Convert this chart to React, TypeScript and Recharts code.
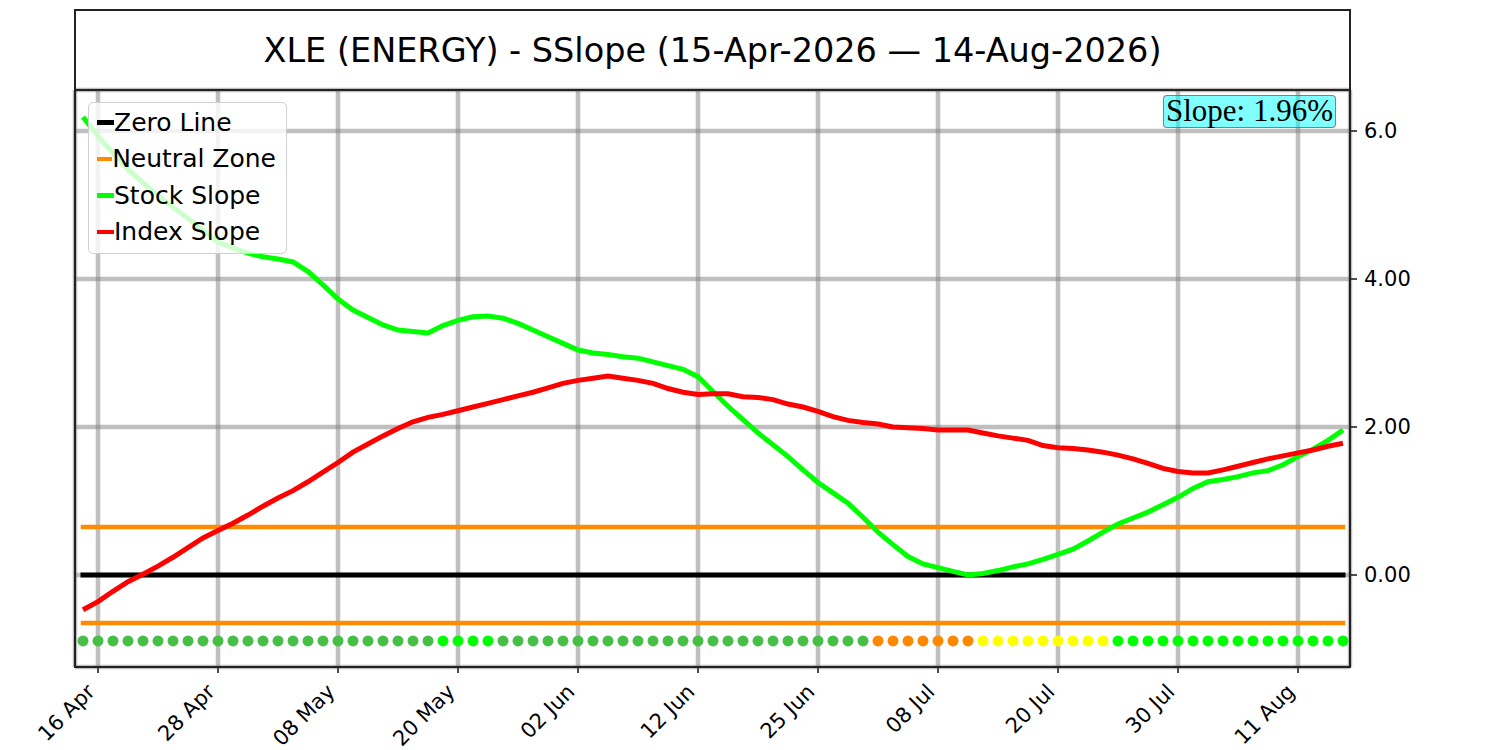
import { CartesianGrid, ComposedChart, Line, Scatter, XAxis, YAxis } from 'recharts'

// trading-day index 0 = 15 Apr 2026, 84 = 14 Aug 2026
const xTickIdx = [1, 9, 17, 25, 33, 41, 49, 57, 65, 73, 81]
const xTickLabels = [
  '16 Apr', '28 Apr', '08 May', '20 May', '02 Jun', '12 Jun',
  '25 Jun', '08 Jul', '20 Jul', '30 Jul', '11 Aug',
]

const yTicks = [0, 2, 4, 6]
const yTickLabels = ['0.00', '2.00', '4.00', '6.0']

const stockSlope = [
  6.19, 5.93, 5.7, 5.48, 5.3, 5.13, 4.97, 4.82, 4.66, 4.5,
  4.42, 4.35, 4.3, 4.27, 4.23, 4.1, 3.92, 3.73, 3.58, 3.48,
  3.38, 3.31, 3.29, 3.27, 3.37, 3.44, 3.49, 3.5, 3.47, 3.4,
  3.31, 3.22, 3.13, 3.04, 3.0, 2.98, 2.95, 2.93, 2.88, 2.83,
  2.78, 2.68, 2.48, 2.28, 2.1, 1.92, 1.76, 1.6, 1.42, 1.25,
  1.11, 0.97, 0.78, 0.58, 0.41, 0.25, 0.15, 0.1, 0.05, 0.0,
  0.02, 0.06, 0.11, 0.15, 0.21, 0.28, 0.35, 0.46, 0.58, 0.69,
  0.77, 0.85, 0.95, 1.05, 1.17, 1.26, 1.29, 1.33, 1.38, 1.41,
  1.49, 1.6, 1.7, 1.82, 1.96,
]

const indexSlope = [
  -0.47, -0.36, -0.22, -0.09, 0.01, 0.12, 0.24, 0.37, 0.5, 0.6,
  0.7, 0.81, 0.93, 1.04, 1.14, 1.26, 1.39, 1.52, 1.66, 1.77,
  1.88, 1.98, 2.07, 2.13, 2.17, 2.22, 2.27, 2.32, 2.37, 2.42,
  2.47, 2.53, 2.59, 2.63, 2.66, 2.69, 2.66, 2.63, 2.59, 2.52,
  2.47, 2.44, 2.45, 2.45, 2.41, 2.4, 2.37, 2.31, 2.27, 2.21,
  2.14, 2.09, 2.06, 2.04, 2.0, 1.99, 1.98, 1.96, 1.96, 1.96,
  1.92, 1.88, 1.85, 1.82, 1.75, 1.72, 1.71, 1.69, 1.66, 1.62,
  1.57, 1.51, 1.44, 1.4, 1.38, 1.38, 1.42, 1.47, 1.52, 1.57,
  1.61, 1.65, 1.69, 1.74, 1.78,
]

// g = positive falling, G = positive rising, o = neutral falling, y = neutral rising
const signals = (
  'gggggggggggggggggggggggg' + 'GGGG' + 'ggggggggggggggggggggggggg' +
  'ooooooo' + 'yyyyyyyyy' + 'GGGGGGGGGGGGGGGG'
).split('')

const signalColors: Record<string, string> = {
  g: '#47bf47',
  G: '#00ff00',
  o: '#ff8800',
  y: '#ffff00',
}

const zeroLevel = 0
const neutralBand = 0.65
const dotLevel = -0.89
const lastSlope = '1.96%'

const legendItems = [
  { name: 'Zero Line', color: '#000000' },
  { name: 'Neutral Zone', color: '#ff8c00' },
  { name: 'Stock Slope', color: '#00ff00' },
  { name: 'Index Slope', color: '#ff0000' },
]

const rows = stockSlope.map((s, i) => ({ i, stock: s, index: indexSlope[i] }))
const dotRows = signals.map((c, i) => ({ i, y: dotLevel, color: signalColors[c] }))
const lastIdx = stockSlope.length - 1
const seg = (v: number) => [
  { i: 0, v },
  { i: lastIdx, v },
]

const XTick = (props: any) => {
  const { x, y, payload } = props
  const label = xTickLabels[xTickIdx.indexOf(payload.value)]
  const ex = x - 2
  const ey = y + 18
  return (
    <text
      x={ex}
      y={ey}
      textAnchor="end"
      fill="#000"
      fontSize={21}
      transform={`rotate(-45, ${ex}, ${ey})`}
    >
      {label}
    </text>
  )
}

const Dot = (props: any) => {
  const { cx, cy, payload } = props
  return <circle cx={cx} cy={cy} r={5.5} fill={payload?.color} />
}

export default function App() {
  return (
    <div
      style={{
        position: 'relative',
        width: 1500,
        height: 750,
        fontFamily: '"DejaVu Sans", sans-serif',
        background: '#fff',
      }}
    >
      <style>{'body{margin:0}'}</style>
      <ComposedChart
        width={1500}
        height={750}
        data={rows}
        margin={{ top: 90, right: 50, bottom: 3, left: 75 }}
      >
        <CartesianGrid stroke="#808080" strokeOpacity={0.5} strokeWidth={4.5} />
        <XAxis
          dataKey="i"
          type="number"
          domain={[-0.533, 84.467]}
          allowDataOverflow
          ticks={xTickIdx}
          interval={0}
          height={80}
          axisLine={false}
          tickLine={{ stroke: '#222', strokeWidth: 1.6 }}
          tickSize={6}
          tick={<XTick />}
        />
        <YAxis
          orientation="right"
          type="number"
          domain={[-1.243, 6.554]}
          allowDataOverflow
          ticks={yTicks}
          width={100}
          axisLine={false}
          tickLine={{ stroke: '#222', strokeWidth: 1.6 }}
          tickSize={7}
          tickMargin={7}
          tick={{ fill: '#000', fontSize: 21 }}
          tickFormatter={(v) => yTickLabels[yTicks.indexOf(v)]}
        />
        <Line
          data={seg(neutralBand)}
          dataKey="v"
          stroke="#ff8c00"
          strokeWidth={4.5}
          strokeLinecap="square"
          dot={false}
          isAnimationActive={false}
        />
        <Line
          data={seg(-neutralBand)}
          dataKey="v"
          stroke="#ff8c00"
          strokeWidth={4.5}
          strokeLinecap="square"
          dot={false}
          isAnimationActive={false}
        />
        <Line
          data={seg(zeroLevel)}
          dataKey="v"
          stroke="#000"
          strokeWidth={5}
          strokeLinecap="square"
          dot={false}
          isAnimationActive={false}
        />
        <Scatter data={dotRows} dataKey="y" shape={<Dot />} isAnimationActive={false} />
        <Line
          dataKey="stock"
          stroke="#00ff00"
          strokeWidth={5}
          dot={false}
          isAnimationActive={false}
        />
        <Line
          dataKey="index"
          stroke="#ff0000"
          strokeWidth={5}
          dot={false}
          isAnimationActive={false}
        />
      </ComposedChart>

      {/* title box */}
      <div
        style={{
          position: 'absolute',
          left: 74,
          top: 9,
          width: 1277,
          height: 82,
          boxSizing: 'border-box',
          border: '2px solid #222',
          display: 'flex',
          alignItems: 'center',
          justifyContent: 'center',
          fontSize: 33.5,
          color: '#000',
        }}
      >
        XLE (ENERGY) - SSlope (15-Apr-2026 — 14-Aug-2026)
      </div>

      {/* plot frame */}
      <div
        style={{
          position: 'absolute',
          left: 74,
          top: 89,
          width: 1277,
          height: 579,
          boxSizing: 'border-box',
          border: '2px solid #222',
          pointerEvents: 'none',
        }}
      />

      {/* legend */}
      <div
        style={{
          position: 'absolute',
          left: 88,
          top: 102,
          boxSizing: 'border-box',
          width: 199,
          height: 152,
          padding: '1px 10px 3px 8px',
          background: 'rgba(255,255,255,0.8)',
          border: '1.5px solid #d0d0d0',
          borderRadius: 5,
          fontSize: 25,
          color: '#000',
        }}
      >
        {legendItems.map((it) => (
          <div
            key={it.name}
            style={{ display: 'flex', alignItems: 'center', height: 36.5, whiteSpace: 'nowrap' }}
          >
            <span
              style={{ display: 'inline-block', width: 17, height: 4.5, background: it.color }}
            />
            <span>{it.name}</span>
          </div>
        ))}
      </div>

      {/* last slope label */}
      <div
        style={{
          position: 'absolute',
          left: 1163,
          top: 95,
          width: 173,
          height: 33,
          boxSizing: 'border-box',
          background: 'rgba(0,255,255,0.5)',
          border: '1.5px solid rgba(170,70,70,0.75)',
          borderRadius: 4,
          fontFamily: '"Liberation Serif", serif',
          fontSize: 31,
          lineHeight: '29px',
          textAlign: 'center',
          whiteSpace: 'nowrap',
          color: '#000',
        }}
      >
        Slope: {lastSlope}
      </div>
    </div>
  )
}
